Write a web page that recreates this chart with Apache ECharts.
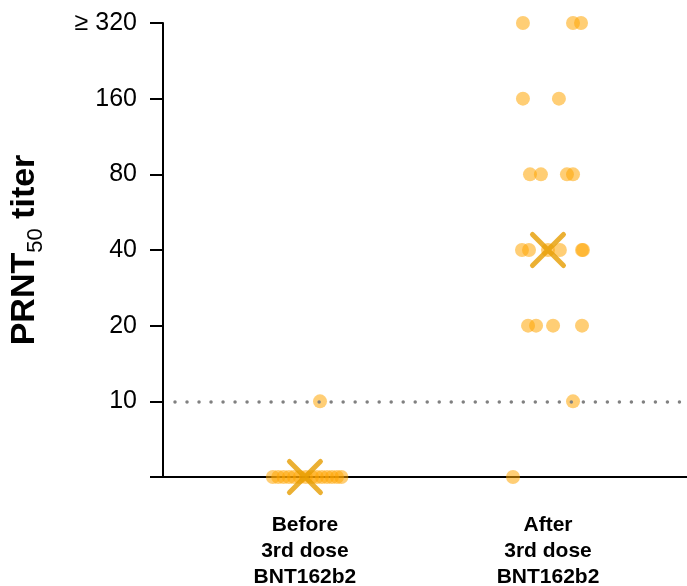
<!DOCTYPE html>
<html>
<head>
<meta charset="utf-8">
<script src="https://cdn.jsdelivr.net/npm/echarts@6/dist/echarts.min.js"></script>
<style>html,body{margin:0;padding:0;background:#fff}#c{width:687px;height:586px}</style>
</head>
<body>
<div id="c"></div>
<script>
// Groups (x positions 1 and 2)
var groups = ['Before\n3rd dose\nBNT162b2', 'After\n3rd dose\nBNT162b2'];
// Titer levels (5 = below detection, <10)
var titerLevels = ['5', '10', '20', '40', '80', '160', '320'];
var tickLabels = ['', '10', '20', '40', '80', '160', '\u2265 320'];
var detectionLimit = '10';

// Before 3rd dose: jitter offset and titer
var beforeOffsets = [-0.132, -0.110, -0.088, -0.066, -0.045, -0.021, 0.004, 0.029, 0.049, 0.070, 0.091, 0.111, 0.132, 0.150, 0.062];
var beforeTiters  = [5, 5, 5, 5, 5, 5, 5, 5, 5, 5, 5, 5, 5, 5, 10];
// After 3rd dose
var afterOffsets = [-0.103, 0.103, 0.136, -0.103, 0.045, -0.074, -0.029, 0.078, 0.103, -0.107, -0.078, 0.0, 0.049, 0.140, 0.144, -0.082, -0.049, 0.021, 0.140, 0.103, -0.144];
var afterTiters  = [320, 320, 320, 160, 160, 80, 80, 80, 80, 40, 40, 40, 40, 40, 40, 20, 20, 20, 20, 10, 5];
// Geometric mean titers
var gmtTiters = [5, 40];

function pts(center, offs, tit) {
  return offs.map(function (o, i) { return [center + o, String(tit[i])]; });
}

var chart = echarts.init(document.getElementById('c'), null, {renderer: 'canvas'});
var dotColor = 'rgba(255,165,0,0.68)';
var gmColor = '#E69C00';
var ff = 'Liberation Sans, Arial, sans-serif';
chart.setOption({
  animation: false,
  grid: {left: 163, right: 0, top: 23, bottom: 109, containLabel: false, outerBoundsMode: 'none'},
  xAxis: {
    type: 'value', min: 0.416, max: 2.572,
    axisLine: {show: true, onZero: false, lineStyle: {color: '#000', width: 2}},
    axisTick: {show: false},
    splitLine: {show: false},
    axisLabel: {
      customValues: [1, 2],
      formatter: function (v) { return groups[Math.round(v) - 1] || ''; },
      fontFamily: ff, fontWeight: 'bold', fontSize: 21, color: '#000', lineHeight: 26, margin: 35
    }
  },
  yAxis: {
    type: 'category', data: titerLevels, boundaryGap: false,
    axisLine: {show: true, lineStyle: {color: '#000', width: 2}},
    axisTick: {show: true, length: 13, lineStyle: {color: '#000', width: 2}, alignWithLabel: true},
    splitLine: {show: false},
    axisLabel: {
      formatter: function (v, i) { return tickLabels[i]; },
      fontFamily: ff, fontSize: 25, color: '#000', margin: 26
    },
    name: '{b|PRNT}{s|50}{b| titer}',
    nameLocation: 'middle', nameGap: 121, nameRotate: 90,
    nameTextStyle: {
      rich: {
        b: {fontFamily: ff, fontWeight: 'bold', fontSize: 34, color: '#000', lineHeight: 38, verticalAlign: 'bottom'},
        s: {fontFamily: ff, fontSize: 22, color: '#000', lineHeight: 38, verticalAlign: 'bottom', padding: [0, 0, -5, 0]}
      }
    }
  },
  series: [
    {
      type: 'scatter', name: 'Before', data: pts(1, beforeOffsets, beforeTiters),
      symbolSize: 14, itemStyle: {color: dotColor}, z: 3,
      markLine: {
        silent: true, symbol: 'none', label: {show: false}, z: 6,
        lineStyle: {color: '#808080', type: [0.01, 12], width: 3.5, cap: 'round', dashOffset: -12},
        data: [{yAxis: detectionLimit}]
      }
    },
    {
      type: 'scatter', name: 'After', data: pts(2, afterOffsets, afterTiters),
      symbolSize: 14, itemStyle: {color: dotColor}, z: 3
    },
    {
      type: 'scatter', name: 'GMT',
      data: gmtTiters.map(function (t, i) { return [i + 1, String(t)]; }),
      symbol: 'path://M0,0L10,10M10,0L0,10', symbolSize: 31,
      itemStyle: {color: 'none', borderColor: gmColor, borderWidth: 5, borderCap: 'round'},
      z: 5
    }
  ]
});
</script>
</body>
</html>
